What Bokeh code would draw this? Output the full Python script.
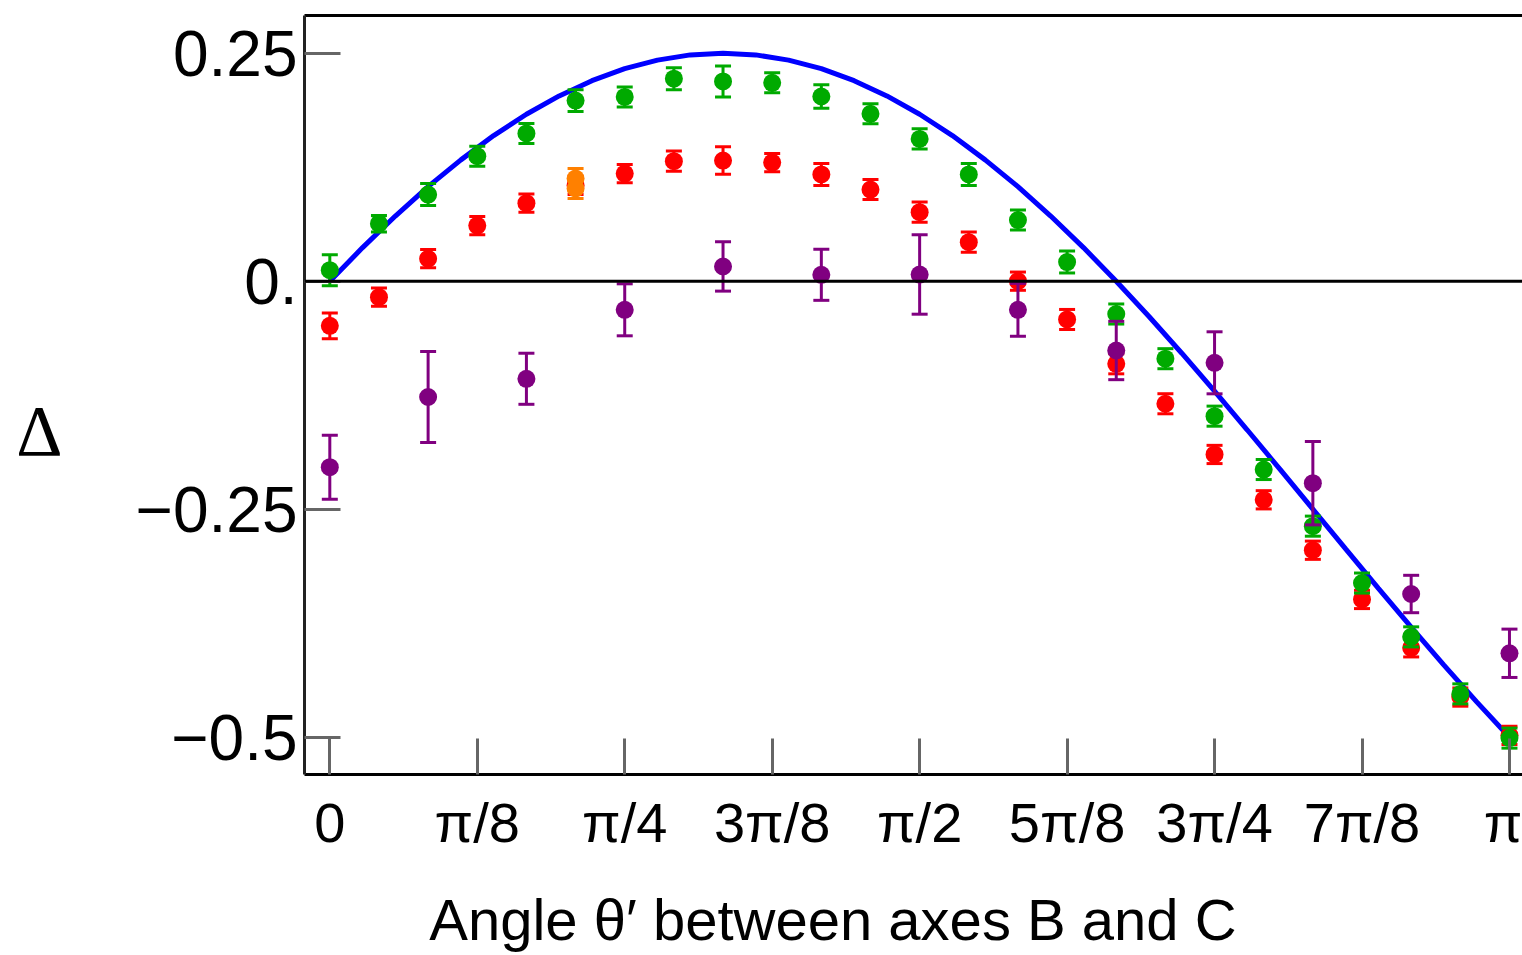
import numpy as np
from bokeh.plotting import figure
from bokeh.models import ColumnDataSource, Span, FixedTicker, LinearAxis, Range1d
from bokeh.embed import file_html
from bokeh.resources import INLINE

# ---------------- data (angles in degrees, Δ values) ----------------
curve_deg = [0, 5, 10, 15, 20, 25, 30, 35, 40, 45, 50, 55, 60, 65, 70, 75, 80, 85, 90,
             95, 100, 105, 110, 115, 120, 125, 130, 135, 140, 145, 150, 155, 160, 165,
             170, 175, 180]
curve_val = [0.0, 0.0368, 0.0714, 0.1036, 0.1330, 0.1596, 0.1830, 0.2031, 0.2198, 0.2330,
             0.2424, 0.2481, 0.25, 0.2481, 0.2424, 0.2330, 0.2198, 0.2031, 0.1830, 0.1596,
             0.1330, 0.1036, 0.0714, 0.0368, 0.0, -0.0387, -0.0790, -0.1206, -0.1632,
             -0.2064, -0.25, -0.2936, -0.3368, -0.3794, -0.4210, -0.4613, -0.5]

green_deg = [0, 7.5, 15, 22.5, 30, 37.5, 45, 52.5, 60, 67.5, 75, 82.5, 90, 97.5, 105,
             112.5, 120, 127.5, 135, 142.5, 150, 157.5, 165, 172.5, 180]
green_val = [0.012, 0.063, 0.095, 0.137, 0.162, 0.198, 0.202, 0.222, 0.219, 0.2175, 0.2025,
             0.1835, 0.156, 0.117, 0.067, 0.021, -0.036, -0.085, -0.148, -0.2065, -0.2686,
             -0.331, -0.390, -0.4525, -0.501]
green_err = [0.017, 0.009, 0.012, 0.011, 0.011, 0.012, 0.011, 0.012, 0.017, 0.011, 0.013,
             0.011, 0.011, 0.012, 0.011, 0.012, 0.011, 0.011, 0.011, 0.011, 0.011, 0.011,
             0.011, 0.011, 0.011]

red_deg = [0, 7.5, 15, 22.5, 30, 37.5, 45, 52.5, 60, 67.5, 75, 82.5, 90, 97.5, 105,
           112.5, 120, 127.5, 135, 142.5, 150, 157.5, 165, 172.5, 180]
red_val = [-0.049, -0.0175, 0.0246, 0.061, 0.0855, 0.105, 0.118, 0.1316, 0.1323, 0.130,
           0.117, 0.1005, 0.0757, 0.0428, 0.0, -0.042, -0.0906, -0.1344, -0.190, -0.2397,
           -0.295, -0.349, -0.402, -0.456, -0.498]
red_err = [0.014, 0.010, 0.010, 0.010, 0.010, 0.010, 0.010, 0.011, 0.015, 0.010, 0.012,
           0.011, 0.011, 0.011, 0.010, 0.011, 0.011, 0.011, 0.010, 0.010, 0.010, 0.010,
           0.010, 0.010, 0.010]

orange_deg = [37.5, 37.5]
orange_val = [0.1126, 0.1016]
orange_err = [0.011, 0.011]

purple_deg = [0, 15, 30, 45, 60, 75, 90, 105, 120, 135, 150, 165, 180]
purple_val = [-0.204, -0.127, -0.107, -0.0314, 0.0161, 0.007, 0.0073, -0.0314, -0.076,
              -0.0895, -0.2215, -0.343, -0.408]
purple_err = [0.035, 0.050, 0.028, 0.0285, 0.027, 0.028, 0.0435, 0.029, 0.032, 0.034,
              0.0457, 0.0205, 0.0265]

x_tick_eighths = [0, 1, 2, 3, 4, 5, 6, 7, 8]
x_tick_labels = ["0", "π/8", "π/4", "3π/8", "π/2", "5π/8", "3π/4", "7π/8", "π"]
y_ticks = [0.25, 0.0, -0.25, -0.5]
y_tick_labels = ["0.25", "0.", "\u22120.25", "\u22120.5"]
x_title = "Angle θ′ between axes B and C"
y_title = "Δ"

# ---------------- figure ----------------
FONT = "Liberation Sans"
p = figure(width=1522, height=955, output_backend="svg", toolbar_location=None,
           x_range=Range1d(-0.0674, 3.1763), y_range=Range1d(-0.5409, 0.2913),
           min_border_left=304, min_border_right=0, min_border_top=15, min_border_bottom=181,
           outline_line_color=None, background_fill_color="white", border_fill_color="white")
p.grid.visible = False

xt = [k * np.pi / 8 for k in x_tick_eighths]
xa = p.xaxis[0]
xa.ticker = FixedTicker(ticks=xt)
xa.major_label_overrides = {t: lab for t, lab in zip(xt, x_tick_labels)}
ya = p.yaxis[0]
ya.ticker = FixedTicker(ticks=y_ticks)
ya.major_label_overrides = {t: lab for t, lab in zip(y_ticks, y_tick_labels)}

for ax in (xa, ya):
    ax.major_tick_in = 36
    ax.major_tick_out = 0
    ax.minor_tick_in = 0
    ax.minor_tick_out = 0
    ax.major_tick_line_color = "#666666"
    ax.major_tick_line_width = 3
    ax.axis_line_color = "black"
    ax.axis_line_width = 3
    ax.major_label_text_font = FONT
    ax.major_label_text_color = "black"
xa.major_label_text_font_size = "56px"
xa.major_label_standoff = 16
ya.major_label_text_font_size = "64px"
ya.major_label_standoff = 7
ya.axis_line_color = "#222222"

# x title: trailing no-break spaces shift its centre left, as in the reference
xa.axis_label = x_title + "\u00a0" * 10
xa.axis_label_text_font = FONT
xa.axis_label_text_font_size = "58px"
xa.axis_label_text_font_style = "normal"
xa.axis_label_text_color = "black"
xa.axis_label_standoff = 30

# y title: horizontal Δ, leading newline pushes it below the frame centre
ya.axis_label = "\n" + y_title
ya.axis_label_orientation = "horizontal"
ya.axis_label_text_font = "Liberation Serif"
ya.axis_label_text_font_size = "72px"
ya.axis_label_text_line_height = 0.9
ya.axis_label_text_font_style = "normal"
ya.axis_label_text_color = "black"
ya.axis_label_standoff = 70

top_axis = LinearAxis(ticker=FixedTicker(ticks=[]), axis_line_color="black", axis_line_width=3,
                      major_tick_in=0, major_tick_out=0, minor_tick_in=0, minor_tick_out=0,
                      major_label_text_font_size="0px", major_label_standoff=0)
p.add_layout(top_axis, "above")

# theory curve
p.line(np.deg2rad(curve_deg), curve_val, line_color="#0000FF", line_width=5)


def series(deg, val, err, color):
    x = np.deg2rad(deg)
    v = np.array(val)
    e = np.array(err)
    src = ColumnDataSource(dict(x=x, y=v, lo=v - e, hi=v + e))
    p.segment(x0="x", y0="lo", x1="x", y1="hi", source=src, line_color=color, line_width=3)
    p.scatter(x="x", y="hi", source=src, marker="dash", size=16, line_color=color, line_width=3)
    p.scatter(x="x", y="lo", source=src, marker="dash", size=16, line_color=color, line_width=3)
    p.scatter(x="x", y="y", source=src, marker="circle", size=18, fill_color=color,
              line_color=None)


series(red_deg, red_val, red_err, "#FF0000")
series(orange_deg, orange_val, orange_err, "#FF8000")
series(green_deg, green_val, green_err, "#00AA00")
series(purple_deg, purple_val, purple_err, "#800080")

p.add_layout(Span(location=0, dimension="width", line_color="black", line_width=3,
                  level="annotation"))

open("out.html", "w").write(file_html(p, INLINE))
